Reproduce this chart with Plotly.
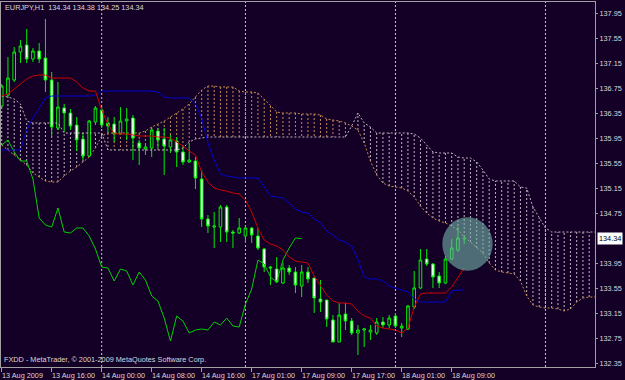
import plotly.graph_objects as go

# ---------------- data ----------------
BARS = list(range(75))  # hourly bars, 13 Aug 2009 08:00 -> 18 Aug 2009 11:00

OPEN = [136.462, 136.638, 136.878, 137.326, 137.438, 137.214, 137.342, 137.230, 136.878, 136.110,
        136.430, 136.350, 136.158, 135.934, 135.662, 136.206, 136.398, 136.190, 136.174, 136.014,
        136.222, 136.270, 135.870, 135.774, 135.790, 136.062, 135.934, 135.806, 135.902, 135.726,
        135.566, 135.582, 135.294, 134.654, 134.526, 134.526, 134.846, 134.446, 134.430, 134.382,
        134.510, 134.382, 134.174, 133.886, 133.854, 133.630, 133.870, 133.806, 133.582, 133.806,
        133.710, 133.374, 133.358, 133.038, 132.686, 133.134, 133.022, 132.830, 132.878, 132.846,
        132.830, 133.006, 132.958, 133.102, 132.910, 132.894, 133.246, 133.550, 134.014, 133.934,
        133.742, 133.630, 134.014, 134.158, 134.34]
HIGH = [136.814, 137.246, 137.406, 137.518, 137.694, 137.390, 137.470, 137.854, 137.006, 136.846,
        136.494, 136.414, 136.286, 136.030, 136.238, 136.462, 136.446, 136.286, 136.286, 136.446,
        136.430, 136.318, 135.918, 135.870, 136.110, 136.110, 136.110, 135.998, 135.966, 135.806,
        135.870, 135.646, 135.438, 134.718, 134.766, 134.878, 134.878, 134.478, 134.670, 134.542,
        134.526, 134.510, 134.190, 133.902, 134.046, 133.950, 133.918, 133.886, 133.918, 133.886,
        133.710, 133.678, 133.358, 133.118, 133.310, 133.310, 133.070, 132.958, 132.910, 132.958,
        133.070, 133.086, 133.118, 133.150, 132.990, 133.278, 133.822, 134.174, 134.174, 133.950,
        133.806, 134.062, 134.334, 134.526, 134.38]
LOW = [136.430, 136.606, 136.846, 137.150, 137.150, 137.166, 137.150, 136.686, 135.966, 136.078,
       136.046, 136.078, 135.742, 135.598, 135.646, 136.158, 136.110, 136.030, 135.886, 135.998,
       135.918, 135.598, 135.518, 135.678, 135.646, 135.790, 135.358, 135.710, 135.486, 135.518,
       135.550, 135.134, 134.526, 134.430, 134.190, 134.286, 134.286, 134.190, 134.414, 134.270,
       134.270, 134.158, 133.806, 133.598, 133.630, 133.614, 133.758, 133.470, 133.406, 133.630,
       133.150, 133.166, 132.926, 132.686, 132.686, 132.878, 132.798, 132.478, 132.606, 132.718,
       132.798, 132.910, 132.910, 132.910, 132.766, 132.878, 133.214, 133.534, 133.902, 133.550,
       133.550, 133.614, 133.998, 134.126, 134.25]
CLOSE = [136.782, 136.910, 137.326, 137.422, 137.214, 137.342, 137.214, 136.878, 136.126, 136.446,
         136.350, 136.142, 135.918, 135.662, 136.222, 136.430, 136.158, 136.142, 136.014, 136.222,
         136.254, 135.950, 135.790, 135.806, 136.078, 135.918, 135.822, 135.918, 135.726, 135.566,
         135.598, 135.310, 134.654, 134.542, 134.542, 134.846, 134.446, 134.430, 134.510, 134.510,
         134.398, 134.190, 133.886, 133.870, 133.646, 133.870, 133.806, 133.598, 133.806, 133.694,
         133.390, 133.326, 133.054, 132.686, 133.118, 133.022, 132.830, 132.878, 132.894, 132.878,
         133.006, 132.958, 133.070, 132.942, 132.942, 133.262, 133.550, 133.998, 133.934, 133.726,
         133.630, 134.014, 134.190, 134.350, 134.34]

TENKAN = [136.622, 136.654, 136.734, 136.814, 136.894, 136.942, 136.958, 136.958, 136.910, 136.910,
          136.910, 136.910, 136.846, 136.750, 136.702, 136.702, 136.398, 136.174, 136.014, 136.014,
          136.014, 135.998, 135.982, 135.982, 135.982, 135.966, 135.966, 135.950, 135.886, 135.822,
          135.742, 135.678, 135.406, 135.246, 135.150, 135.118, 135.102, 135.070, 135.054, 134.958,
          134.766, 134.510, 134.318, 134.254, 134.222, 134.158, 134.046, 133.982, 133.966, 133.950,
          133.742, 133.598, 133.438, 133.342, 133.310, 133.310, 133.294, 133.182, 133.102, 133.070,
          132.942, 132.910, 132.894, 132.878, 132.830, 132.910, 133.246, 133.454, 133.470, 133.470,
          133.470, 133.470, 133.566, 133.710, 133.870]
KIJUN = [135.758, 135.758, 135.758, 135.758, 136.078, 136.270, 136.430, 136.590, 136.622, 136.622,
         136.622, 136.622, 136.622, 136.622, 136.622, 136.638, 136.702, 136.702, 136.702, 136.702,
         136.702, 136.702, 136.702, 136.702, 136.702, 136.686, 136.606, 136.590, 136.590, 136.590,
         136.590, 136.494, 136.270, 135.870, 135.598, 135.374, 135.342, 135.326, 135.310, 135.310,
         135.310, 135.310, 135.166, 135.022, 135.006, 134.990, 134.910, 134.814, 134.766, 134.750,
         134.654, 134.590, 134.462, 134.398, 134.318, 134.286, 134.222, 133.998, 133.726, 133.694,
         133.694, 133.662, 133.582, 133.550, 133.518, 133.486, 133.374, 133.326, 133.326, 133.326,
         133.326, 133.326, 133.502, 133.518, 133.518]
CHIKOU = [135.838, 135.918, 135.726, 135.582, 135.582, 135.294, 134.670, 134.558, 134.526, 134.830,
          134.446, 134.430, 134.510, 134.510, 134.382, 134.174, 133.886, 133.870, 133.662, 133.854,
          133.822, 133.598, 133.806, 133.678, 133.422, 133.342, 133.070, 132.702, 133.102, 133.022,
          132.830, 132.878, 132.894, 132.878, 133.006, 132.958, 133.070, 132.942, 132.926, 133.294,
          133.534, 133.998, 133.934, 133.726, 133.646, 133.998, 134.190, 134.350, 134.340]
SPAN_A = [135.838, 135.758, 135.678, 135.598, 135.518, 135.390, 135.326, 135.262, 135.246, 135.246,
          135.342, 135.422, 135.486, 135.566, 135.646, 135.790, 135.982, 136.030, 136.030, 136.030,
          136.030, 136.030, 136.030, 136.062, 136.126, 136.174, 136.222, 136.286, 136.350, 136.414,
          136.494, 136.606, 136.718, 136.782, 136.782, 136.766, 136.766, 136.766, 136.702, 136.686,
          136.686, 136.670, 136.574, 136.462, 136.366, 136.350, 136.350, 136.350, 136.334, 136.334,
          136.334, 136.318, 136.254, 136.238, 136.222, 136.190, 136.142, 136.078, 135.870, 135.582,
          135.358, 135.230, 135.182, 135.166, 135.150, 135.102, 135.006, 134.862, 134.750, 134.670,
          134.622, 134.590, 134.542, 134.478, 134.366, 134.286, 134.190, 134.110, 133.950, 133.838,
          133.806, 133.790, 133.774, 133.662, 133.422, 133.278, 133.246, 133.230, 133.230, 133.214,
          133.182, 133.214, 133.326, 133.390, 133.406, 133.406]
SPAN_B = [136.622, 136.606, 136.574, 136.494, 136.222, 136.190, 136.190, 136.190, 136.190, 136.190,
          136.030, 136.030, 136.030, 136.030, 136.030, 136.030, 136.030, 135.758, 135.758, 135.758,
          135.758, 135.758, 135.758, 135.758, 135.758, 135.758, 135.758, 135.758, 135.758, 135.790,
          135.886, 135.934, 135.950, 135.966, 135.966, 135.966, 135.966, 135.966, 135.966, 135.966,
          135.966, 135.966, 135.966, 135.966, 135.966, 135.966, 135.966, 135.966, 135.966, 135.966,
          135.966, 135.966, 135.966, 135.966, 135.966, 135.966, 136.142, 136.350, 136.190, 136.126,
          136.030, 136.030, 136.030, 136.030, 136.030, 136.030, 136.014, 135.950, 135.838, 135.726,
          135.710, 135.710, 135.710, 135.646, 135.630, 135.630, 135.566, 135.438, 135.294, 135.262,
          135.262, 135.262, 135.262, 135.166, 135.150, 134.846, 134.670, 134.510, 134.446, 134.446,
          134.446, 134.446, 134.446, 134.446, 134.446, 134.446]

X_TICK_BARS = [0, 8, 16, 24, 32, 40, 48, 56, 64, 72]
X_TICK_LABELS = ["13 Aug 2009", "13 Aug 16:00", "14 Aug 00:00", "14 Aug 08:00", "14 Aug 16:00",
                 "17 Aug 01:00", "17 Aug 09:00", "17 Aug 17:00", "18 Aug 01:00", "18 Aug 09:00"]
SEPARATOR_BARS = [16, 39, 63, 87]
Y_TICKS = [137.95, 137.55, 137.15, 136.75, 136.35, 135.95, 135.55, 135.15, 134.75,
           133.95, 133.55, 133.15, 132.75, 132.35]
LAST_PRICE = 134.34
TITLE = "EURJPY,H1  134.34 134.38 134.25 134.34"
COPYRIGHT = "FXDD - MetaTrader, © 2001-2009 MetaQuotes Software Corp."
HIGHLIGHT = dict(bar=74.53, price=134.254, rx=4.03, ry=0.427)

# ---------------- styling ----------------
BG = "#140026"
FG = "#d8d8d8"
FRAME = "#a0a0a0"
LIME = "#00ee00"
SANDY = "#c48c50"
THISTLE = "#bdb4bd"
FONT = "Liberation Sans"
FS = 7.3
DOT = "2px,2px"

fig = go.Figure()

# cloud hatching (vertical dotted lines per bar, behind everything)
shapes = []
for i, (a, b) in enumerate(zip(SPAN_A, SPAN_B)):
    shapes.append(dict(type="line", xref="x", yref="y", x0=i, x1=i, y0=a, y1=b,
                       line=dict(color=SANDY if a > b else THISTLE, width=1, dash=DOT),
                       layer="below"))
for s in SEPARATOR_BARS:
    shapes.append(dict(type="line", xref="x", yref="paper", x0=s, x1=s, y0=0, y1=1,
                       line=dict(color="#c8c8c8", width=1, dash=DOT), layer="below"))
shapes.append(dict(type="circle", xref="x", yref="y",
                   x0=HIGHLIGHT["bar"] - HIGHLIGHT["rx"], x1=HIGHLIGHT["bar"] + HIGHLIGHT["rx"],
                   y0=HIGHLIGHT["price"] - HIGHLIGHT["ry"], y1=HIGHLIGHT["price"] + HIGHLIGHT["ry"],
                   fillcolor="rgba(115,180,170,0.6)", line=dict(width=0), layer="above"))

fig.add_trace(go.Candlestick(
    x=BARS, open=OPEN, high=HIGH, low=LOW, close=CLOSE,
    increasing=dict(line=dict(color=LIME, width=1), fillcolor=BG),
    decreasing=dict(line=dict(color=LIME, width=1), fillcolor="#ffffff"),
    whiskerwidth=0, hoverinfo="skip"))

x_cloud = list(range(len(SPAN_A)))
fig.add_trace(go.Scatter(x=x_cloud, y=SPAN_A, mode="lines",
                         line=dict(color=SANDY, width=1, dash=DOT), hoverinfo="skip"))
fig.add_trace(go.Scatter(x=x_cloud, y=SPAN_B, mode="lines",
                         line=dict(color=THISTLE, width=1, dash=DOT), hoverinfo="skip"))
fig.add_trace(go.Scatter(x=BARS[:len(CHIKOU)], y=CHIKOU, mode="lines",
                         line=dict(color="#00d000", width=1), hoverinfo="skip"))
fig.add_trace(go.Scatter(x=BARS, y=KIJUN, mode="lines",
                         line=dict(color="#0000d0", width=1), hoverinfo="skip"))
fig.add_trace(go.Scatter(x=BARS, y=TENKAN, mode="lines",
                         line=dict(color="#cc0000", width=1), hoverinfo="skip"))

annotations = []
for b, lab in zip(X_TICK_BARS, X_TICK_LABELS):
    annotations.append(dict(x=b, xref="x", y=0, yref="paper", text=lab, showarrow=False,
                            xanchor="left", yanchor="top", xshift=-1.5, yshift=-2,
                            font=dict(family=FONT, size=FS, color=FG)))
annotations.append(dict(x=0, xref="paper", y=1, yref="paper", text=TITLE, showarrow=False,
                        xanchor="left", yanchor="top", xshift=2, yshift=1,
                        font=dict(family=FONT, size=FS, color=FG)))
annotations.append(dict(x=0, xref="paper", y=0, yref="paper", text=COPYRIGHT, showarrow=False,
                        xanchor="left", yanchor="bottom", xshift=1, yshift=1.5,
                        font=dict(family=FONT, size=FS, color=FG)))
annotations.append(dict(x=1, xref="paper", y=LAST_PRICE, yref="y", text=f"{LAST_PRICE:.2f}",
                        showarrow=False, xanchor="left", yanchor="middle", xshift=2,
                        bgcolor="#ffffff", borderpad=1,
                        font=dict(family=FONT, size=FS, color="#000000")))

fig.update_layout(
    width=625, height=380,
    margin=dict(l=1, r=30, t=2, b=13),
    paper_bgcolor=BG, plot_bgcolor=BG,
    showlegend=False, boxgap=0.4,
    shapes=shapes, annotations=annotations,
    xaxis=dict(range=[-0.112, 94.93], showgrid=False, zeroline=False,
               showline=True, linecolor=FRAME, linewidth=1, mirror=True,
               ticks="outside", ticklen=4, tickcolor=FRAME, tickvals=X_TICK_BARS,
               showticklabels=False, rangeslider=dict(visible=False), fixedrange=True),
    yaxis=dict(range=[132.286, 138.126], side="right", showgrid=False, zeroline=False,
               showline=True, linecolor=FRAME, linewidth=1, mirror=True,
               ticks="outside", ticklen=2, tickcolor=FRAME,
               tickvals=Y_TICKS, ticktext=[f"{v:.2f}" for v in Y_TICKS],
               tickfont=dict(family=FONT, size=FS, color=FG), fixedrange=True),
)

fig.write_html("out.html")
